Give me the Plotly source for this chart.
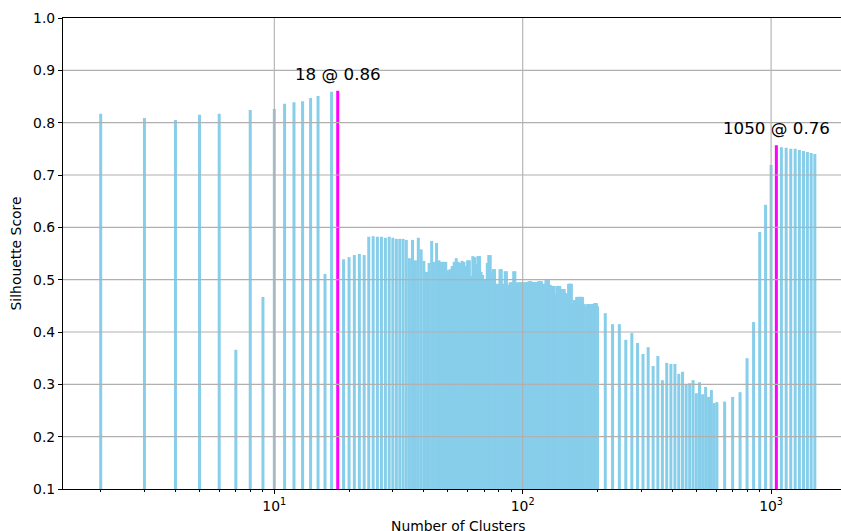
import math
import plotly.graph_objects as go

# Cluster counts that were evaluated: every k up to 200, then coarser steps
k_dense = list(range(2, 201))
k_mid = list(range(215, 606, 15))
k_tail = list(range(650, 1501, 50))

# Silhouette scores for each k (rows of ten, first k noted at the left)
score_dense = [
    0.817, 0.809, 0.805, 0.815, 0.817, 0.366, 0.824, 0.467, 0.826, 0.836,  # 2
    0.839, 0.841, 0.847, 0.851, 0.511, 0.859, 0.861, 0.539, 0.543, 0.547,  # 12
    0.549, 0.547, 0.582, 0.583, 0.582, 0.582, 0.580, 0.582, 0.580, 0.578,  # 22
    0.578, 0.578, 0.576, 0.541, 0.576, 0.537, 0.580, 0.558, 0.536, 0.515,  # 32
    0.532, 0.574, 0.534, 0.570, 0.537, 0.534, 0.534, 0.534, 0.518, 0.520,  # 42
    0.526, 0.534, 0.541, 0.534, 0.532, 0.536, 0.534, 0.526, 0.537, 0.537,  # 52
    0.507, 0.545, 0.543, 0.530, 0.545, 0.545, 0.515, 0.509, 0.501, 0.501,  # 62
    0.532, 0.547, 0.547, 0.513, 0.520, 0.520, 0.492, 0.492, 0.492, 0.520,  # 72
    0.520, 0.492, 0.492, 0.516, 0.516, 0.490, 0.490, 0.495, 0.495, 0.495,  # 82
    0.516, 0.516, 0.494, 0.494, 0.495, 0.495, 0.495, 0.495, 0.495, 0.490,  # 92
    0.495, 0.495, 0.495, 0.495, 0.497, 0.497, 0.497, 0.495, 0.495, 0.495,  # 102
    0.495, 0.495, 0.495, 0.495, 0.497, 0.497, 0.497, 0.497, 0.486, 0.486,  # 112
    0.492, 0.492, 0.499, 0.499, 0.499, 0.499, 0.490, 0.490, 0.488, 0.488,  # 122
    0.488, 0.488, 0.488, 0.471, 0.471, 0.471, 0.488, 0.488, 0.488, 0.488,  # 132
    0.471, 0.482, 0.482, 0.482, 0.482, 0.482, 0.474, 0.474, 0.471, 0.471,  # 142
    0.471, 0.492, 0.492, 0.492, 0.492, 0.492, 0.453, 0.453, 0.453, 0.461,  # 152
    0.461, 0.461, 0.461, 0.467, 0.467, 0.467, 0.467, 0.467, 0.467, 0.467,  # 162
    0.467, 0.467, 0.467, 0.453, 0.453, 0.453, 0.447, 0.447, 0.447, 0.440,  # 172
    0.453, 0.453, 0.453, 0.453, 0.453, 0.453, 0.453, 0.449, 0.453, 0.453,  # 182
    0.453, 0.453, 0.453, 0.455, 0.455, 0.455, 0.455, 0.449, 0.449,         # 192
]
score_mid = [
    0.436, 0.415, 0.415, 0.385, 0.398, 0.379, 0.358, 0.371, 0.335, 0.354,
    0.308, 0.341, 0.339, 0.339, 0.320, 0.324, 0.299, 0.302, 0.308, 0.283,
    0.304, 0.281, 0.295, 0.276, 0.289, 0.264, 0.266,
]
score_tail = [
    0.267, 0.276, 0.285, 0.350, 0.419, 0.591, 0.643, 0.719, 0.757, 0.753,
    0.752, 0.750, 0.750, 0.748, 0.746, 0.744, 0.742, 0.740,
]

# Best k below and above the 600-cluster mark
best_k = [18, 1050]

y_ticks = [0.1, 0.2, 0.3, 0.4, 0.5, 0.6, 0.7, 0.8, 0.9, 1.0]
x_ticks = [10, 100, 1000]
x_tick_text = ["10<sup>1</sup>", "10<sup>2</sup>", "10<sup>3</sup>"]
x_minor = [m * d for d in (1, 10, 100) for m in range(2, 10)]

Y_MIN, Y_MAX = 0.1, 1.0
BAR_COLOR = "#87CEEB"
BEST_COLOR = "#FF00FF"
GRID_COLOR = "#b0b0b0"
FONT = "DejaVu Sans"

ks = k_dense + k_mid + k_tail
scores = score_dense + score_mid + score_tail
score_of = dict(zip(ks, scores))


def stems(points):
    """Vertical bar segments from the axis floor up to each score."""
    xs, ys = [], []
    for k, s in points:
        xs += [k, k, None]
        ys += [Y_MIN, s, None]
    return xs, ys


bx, by = stems([(k, s) for k, s in zip(ks, scores) if k not in best_k])
hx, hy = stems([(k, score_of[k]) for k in best_k])

fig = go.Figure()
fig.add_trace(go.Scatter(x=bx, y=by, mode="lines",
                         line=dict(color=BAR_COLOR, width=3),
                         hoverinfo="skip", showlegend=False))
fig.add_trace(go.Scatter(x=hx, y=hy, mode="lines",
                         line=dict(color=BEST_COLOR, width=3),
                         hoverinfo="skip", showlegend=False))

# Grid drawn on top of the bars
shapes = []
for v in y_ticks[1:-1]:
    shapes.append(dict(type="line", xref="paper", yref="y", x0=0, x1=1,
                       y0=v, y1=v, layer="above",
                       line=dict(color=GRID_COLOR, width=1.1)))
for v in x_ticks:
    shapes.append(dict(type="line", xref="x", yref="paper",
                       x0=v, x1=v, y0=0, y1=1,
                       layer="above", line=dict(color=GRID_COLOR, width=1.1)))

annotations = []
for k in best_k:
    s = score_of[k]
    annotations.append(dict(x=math.log10(k), y=s, xref="x", yref="y",
                            text=f"{k} @ {s:.2f}", showarrow=False,
                            yanchor="bottom", xanchor="center", yshift=5,
                            font=dict(family=FONT, size=16.7, color="black")))
annotations.append(dict(x=0.5084, y=0, xref="paper", yref="paper",
                        text="Number of Clusters", showarrow=False,
                        xanchor="center", yanchor="top", yshift=-27,
                        font=dict(family=FONT, size=13.9, color="black")))

fig.update_layout(
    width=841, height=531,
    margin=dict(l=63, r=0, t=18, b=42),
    paper_bgcolor="white", plot_bgcolor="white",
    font=dict(family=FONT, size=13.9, color="black"),
    shapes=shapes,
    annotations=annotations,
    xaxis=dict(
        type="log", range=[0.1493, 3.2814],
        tickvals=x_ticks, ticktext=x_tick_text,
        ticks="outside", ticklen=4, tickwidth=1, tickcolor="black",
        minor=dict(tickvals=x_minor, ticks="outside", ticklen=2,
                   tickwidth=0.8, tickcolor="black", showgrid=False),
        showgrid=False, zeroline=False,
        showline=True, linecolor="black", linewidth=1.1, mirror=True,
        tickfont=dict(family=FONT, size=13.9, color="black"),
    ),
    yaxis=dict(
        range=[Y_MIN, Y_MAX],
        tickvals=y_ticks, tickformat=".1f",
        ticks="outside", ticklen=4, tickwidth=1, tickcolor="black",
        showgrid=False, zeroline=False,
        showline=True, linecolor="black", linewidth=1.1,
        tickfont=dict(family=FONT, size=13.9, color="black"),
        title=dict(text="Silhouette Score", standoff=8,
                   font=dict(family=FONT, size=13.9, color="black")),
    ),
)

fig.write_html("out.html")
